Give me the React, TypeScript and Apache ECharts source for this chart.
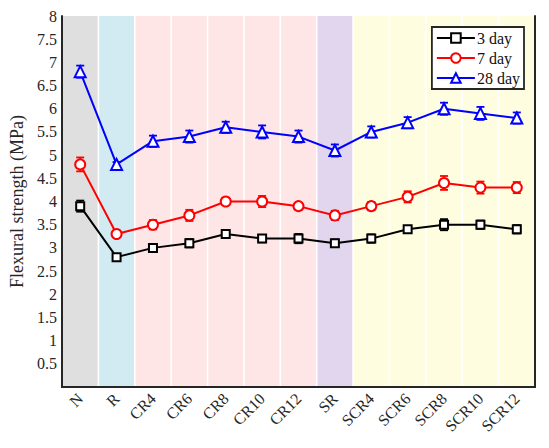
import React, { useEffect, useRef } from "react";
import * as echarts from "echarts";

const categories = ["N", "R", "CR4", "CR6", "CR8", "CR10", "CR12", "SR", "SCR4", "SCR6", "SCR8", "SCR10", "SCR12"];
const groups = ["N", "R", "CR", "CR", "CR", "CR", "CR", "SR", "SCR", "SCR", "SCR", "SCR", "SCR"];

const day3 = [3.9, 2.8, 3.0, 3.1, 3.3, 3.2, 3.2, 3.1, 3.2, 3.4, 3.5, 3.5, 3.4];
const day3Err = [0.12, 0.04, 0.08, 0.09, 0.07, 0.08, 0.1, 0.08, 0.09, 0.07, 0.12, 0.09, 0.09];
const day7 = [4.8, 3.3, 3.5, 3.7, 4.0, 4.0, 3.9, 3.7, 3.9, 4.1, 4.4, 4.3, 4.3];
const day7Err = [0.15, 0.03, 0.1, 0.12, 0.08, 0.12, 0.07, 0.1, 0.09, 0.12, 0.15, 0.13, 0.12];
const day28 = [6.8, 4.8, 5.3, 5.4, 5.6, 5.5, 5.4, 5.1, 5.5, 5.7, 6.0, 5.9, 5.8];
const day28Err = [0.13, 0.05, 0.12, 0.13, 0.12, 0.14, 0.13, 0.13, 0.12, 0.12, 0.13, 0.14, 0.12];

const seriesNames = ["3 day", "7 day", "28 day"];
const yMin = 0;
const yMax = 8;
const yInterval = 0.5;

const groupColors: Record<string, string> = {
  N: "#dfdfdf",
  R: "#d2eaf2",
  CR: "#fee5e6",
  SR: "#e2d6ee",
  SCR: "#fefde0",
};

const FONT = "'Liberation Serif', 'Times New Roman', serif";

export default function App() {
  const ref = useRef<HTMLDivElement>(null);

  useEffect(() => {
    if (!ref.current) return;
    const chart = echarts.init(ref.current, undefined, { renderer: "svg" });

    const bandSeries = {
      type: "custom",
      silent: true,
      z: 0,
      data: categories.map((_, i) => [i]),
      renderItem: (params: any, api: any) => {
        const i = api.value(0);
        const top = api.coord([i, yMax]);
        const bot = api.coord([i, yMin]);
        const w = api.size([1, 0])[0];
        return {
          type: "rect",
          shape: { x: top[0] - w / 2 + 0.8, y: top[1], width: w - 1.6, height: bot[1] - top[1] },
          style: { fill: groupColors[groups[i]] },
        };
      },
    };

    const errSeries = (vals: number[], errs: number[], color: string) => ({
      type: "custom",
      silent: true,
      z: 3,
      data: vals.map((v, i) => [i, v, errs[i]]),
      renderItem: (params: any, api: any) => {
        const i = api.value(0);
        const v = api.value(1);
        const e = api.value(2);
        const a = api.coord([i, v + e]);
        const b = api.coord([i, v - e]);
        const hw = 4;
        const st = { stroke: color, lineWidth: 1.8 };
        return {
          type: "group",
          children: [
            { type: "line", shape: { x1: a[0], y1: a[1], x2: b[0], y2: b[1] }, style: st },
            { type: "line", shape: { x1: a[0] - hw, y1: a[1], x2: a[0] + hw, y2: a[1] }, style: st },
            { type: "line", shape: { x1: b[0] - hw, y1: b[1], x2: b[0] + hw, y2: b[1] }, style: st },
          ],
        };
      },
    });

    const lineSeries = (name: string, vals: number[], color: string, symbol: string, size: number) => ({
      type: "line",
      name,
      data: vals,
      z: 4,
      symbol,
      symbolSize: size,
      lineStyle: { color, width: 2 },
      itemStyle: { color: "#ffffff", borderColor: color, borderWidth: 2 },
    });

    const axisCommon = {
      axisLine: { show: true, lineStyle: { color: "#262626", width: 2 } },
      axisTick: { inside: true, length: 5, lineStyle: { color: "#262626", width: 1.3 } },
      splitLine: { show: false },
    };

    chart.setOption({
      animation: false,
      backgroundColor: "#ffffff",
      textStyle: { fontFamily: FONT },
      grid: { left: 60, right: 14, top: 16, bottom: 61, containLabel: false },
      legend: {
        data: seriesNames,
        right: 25,
        top: 27,
        orient: "vertical",
        itemWidth: 38,
        itemHeight: 12,
        itemGap: 4,
        borderColor: "#262626",
        borderWidth: 1.8,
        backgroundColor: "#ffffff",
        padding: [3, 4, 3, 4],
        textStyle: { fontFamily: FONT, fontSize: 16, color: "#111", padding: [0, 0, 0, -3] },
      },
      xAxis: [
        {
          type: "category",
          data: categories,
          boundaryGap: true,
          position: "bottom",
          ...axisCommon,
          axisTick: { ...axisCommon.axisTick, alignWithLabel: true },
          axisLabel: { rotate: 45, fontFamily: FONT, fontSize: 16, color: "#262626", margin: 9 },
        },
        {
          type: "category",
          data: categories,
          boundaryGap: true,
          position: "top",
          ...axisCommon,
          axisTick: { ...axisCommon.axisTick, alignWithLabel: true },
          axisLabel: { show: false },
        },
      ],
      yAxis: [
        {
          type: "value",
          min: yMin,
          max: yMax,
          interval: yInterval,
          position: "left",
          name: "Flexural strength (MPa)",
          nameLocation: "middle",
          nameGap: 36,
          nameTextStyle: { fontFamily: FONT, fontSize: 18, color: "#262626" },
          ...axisCommon,
          axisLabel: {
            fontFamily: FONT,
            fontSize: 16,
            color: "#262626",
            margin: 5,
            formatter: (v: number) => (v === 0 ? "" : String(v)),
          },
        },
        {
          type: "value",
          min: yMin,
          max: yMax,
          interval: yInterval,
          position: "right",
          ...axisCommon,
          axisLabel: { show: false },
        },
      ],
      series: [
        bandSeries,
        errSeries(day3, day3Err, "#000000"),
        errSeries(day7, day7Err, "#ff0000"),
        errSeries(day28, day28Err, "#0000ff"),
        lineSeries(seriesNames[0], day3, "#000000", "rect", 8),
        lineSeries(seriesNames[1], day7, "#ff0000", "circle", 10),
        lineSeries(seriesNames[2], day28, "#0000ff", "triangle", 11),
      ],
    });

    return () => chart.dispose();
  }, []);

  return (
    <div
      ref={ref}
      style={{ position: "fixed", left: 0, top: 0, width: 549, height: 448, background: "#fff" }}
    />
  );
}
